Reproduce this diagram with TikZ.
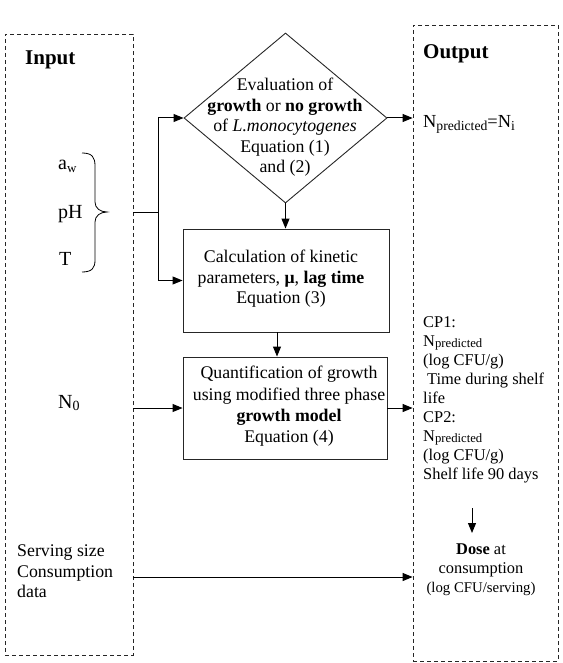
\documentclass[tikz,border=0pt]{standalone}
\usepackage{fontspec}
\setmainfont{Liberation Serif}
\usetikzlibrary{shapes.geometric,arrows.meta}
\newcommand\fmain{\fontsize{17.8}{20.5}\selectfont}
\newcommand\fvar{\fontsize{20}{24}\selectfont}
\newcommand\fout{\fontsize{16.4}{19}\selectfont}
\newcommand\fhead{\fontsize{21}{24}\selectfont\bfseries}
\newcommand\lowsub[2]{\raisebox{-0.25ex}{\fontsize{#1}{#1}\selectfont #2}}
\begin{document}
\begin{tikzpicture}[x=1pt,y=-1pt,
 dbox/.style={draw=black!85, dash pattern=on 4pt off 3pt, line width=0.8pt, inner sep=0pt},
 sbox/.style={draw=black!85, line width=0.9pt, inner sep=0pt},
 conn/.style={line width=1pt, draw=black},
 arr/.style={conn, -{Triangle[length=10pt,width=8pt]}},
 txt/.style={inner sep=0pt, font=\fmain, align=center},
 ltxt/.style={inner sep=0pt, align=left},
 lab/.style={inner sep=0pt, anchor=base west},
]
\useasboundingbox (0,0) rectangle (562,663);

% boxes
\node[dbox, minimum width=128pt, minimum height=621pt] (inbox) at (69,344.5) {};
\node[dbox, minimum width=145pt, minimum height=636pt] (outbox) at (485.5,343) {};
\node[sbox, diamond, minimum width=203pt, minimum height=170pt] (dia) at (285.5,118) {};
\node[sbox, minimum width=206pt, minimum height=103pt] (calc) at (286,280.5) {};
\node[sbox, minimum width=204pt, minimum height=102pt] (quant) at (285,408) {};

% texts in process shapes
\node[txt, anchor=north] (diatext) at (285,78) {Evaluation of\\ \textbf{growth} or \textbf{no growth}\\ of \textit{L.monocytogenes}\\ Equation (1)\\ and (2)};
\node[txt, anchor=north] (calctext) at (281,250) {Calculation of kinetic\\ parameters, \textbf{μ}, \textbf{lag time}\\ Equation (3)};
\node[txt, anchor=north, font=\fontsize{17.8}{21.3}\selectfont] (quanttext) at (289,366) {Quantification of growth\\ using modified three phase\\ \textbf{growth model}\\ Equation (4)};

% input column
\node[lab, font=\fhead] (inlab) at (25,65) {Input};
\node[lab, font=\fvar] (aw) at (58,170) {a\lowsub{13}{w}};
\node[lab, font=\fvar] (ph) at (58,218) {pH};
\node[lab, font=\fvar] (tt) at (59,265) {T};
\node[lab, font=\fvar] (n0) at (58,408) {N\lowsub{14}{0}};
\node[ltxt, anchor=north west, font=\fmain] (serv) at (17,545) {Serving size\\ Consumption\\ data};
\draw[line width=0.8pt] (82,153) .. controls (92,153) and (95,157) .. (95,166) -- (95,202) .. controls (95,208) and (100,212) .. (107,212) .. controls (100,212) and (95,216) .. (95,222) -- (95,260) .. controls (95,268) and (92,272) .. (82,272);

% output column
\node[lab, font=\fhead] (outlab) at (423,59) {Output};
\node[lab, font=\fontsize{18.4}{22}\selectfont] (npred) at (423,128) {N\lowsub{13.7}{predicted}=N\lowsub{13.7}{i}};
\node[ltxt, anchor=north west, font=\fout] (cp) at (423,316) {CP1:\\ N\lowsub{12.7}{predicted}\\ (log CFU/g)\\ \hspace*{4pt}Time during shelf\\ life\\ CP2:\\ N\lowsub{12.7}{predicted}\\ (log CFU/g)\\ Shelf life 90 days};
\node[txt, anchor=north, font=\fout] (dose) at (481,544) {\textbf{Dose} at\\ consumption\\ {\fontsize{14.8}{18}\selectfont (log CFU/serving)}};

% connectors
\coordinate (j) at (158,212);
\coordinate (cx) at (277,0);
\coordinate (sy) at (0,577);
\coordinate (d1) at (472,508);
\coordinate (d2) at (472,533);

\draw[conn] (inbox.east |- j) -- (j);
\draw[arr] (j) |- (dia.west);
\draw[arr] (j) |- (calc.west);
\draw[arr] (dia.south) -- (dia.south |- calc.north);
\draw[arr] (calc.south -| cx) -- (quant.north -| cx);
\draw[arr] (dia.east) -- (outbox.west |- dia.east);
\draw[arr] (inbox.east |- quant.west) -- (quant.west);
\draw[arr] (quant.east) -- (outbox.west |- quant.east);
\draw[arr] (inbox.east |- sy) -- (outbox.west |- sy);
\draw[arr] (d1) -- (d2);
\end{tikzpicture}
\end{document}
